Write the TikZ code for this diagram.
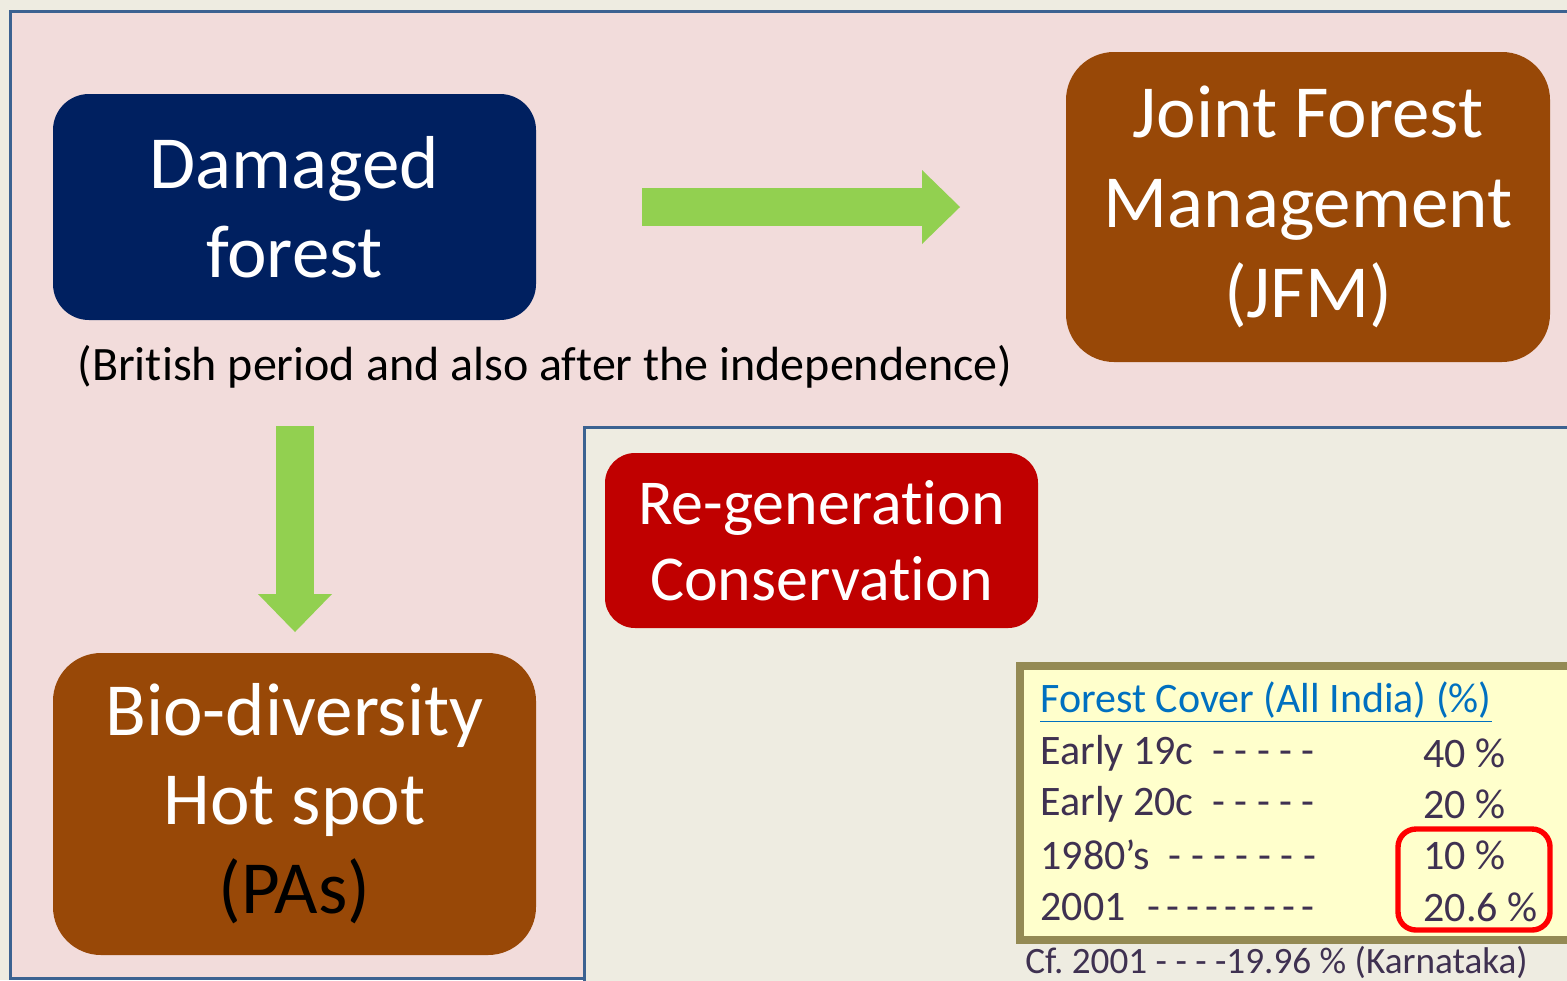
\documentclass[tikz,border=0pt]{standalone}
\usepackage{fontspec}
\setmainfont[Ligatures=NoCommon]{Carlito}
\usetikzlibrary{arrows.meta}
\definecolor{slidebg}{HTML}{EEECE1}
\definecolor{panelpink}{HTML}{F2DCDB}
\definecolor{panelblue}{HTML}{3C6291}
\definecolor{navy}{HTML}{002060}
\definecolor{rust}{HTML}{984807}
\definecolor{deepred}{HTML}{C00000}
\definecolor{leaf}{HTML}{92D050}
\definecolor{olive}{HTML}{948A54}
\definecolor{paleyellow}{HTML}{FFFFCC}
\definecolor{plum}{HTML}{3F3151}
\definecolor{linkblue}{HTML}{0070C0}
\frenchspacing

\begin{document}
\begin{tikzpicture}[x=0.5pt,y=-0.5pt,
   box/.style={rounded corners=#1,align=center,inner sep=0pt,text=white,
      font=\fontsize{38pt}{44pt}\selectfont},
   bigarrow/.style={leaf,line width=19pt,
      -{Triangle[length=19pt,width=37pt,line width=0pt]}},
   row/.style={anchor=west,inner sep=0pt,text=plum,font=\fontsize{21pt}{25pt}\selectfont}]
\useasboundingbox (0,0) rectangle (1567,980);
\clip (0,0) rectangle (1567,980);
\fill[slidebg] (0,0) rectangle (1567,980);
% panels
\draw[panelblue,fill=panelpink,line width=1.5pt] (10,11) rectangle (1600,978);
\draw[panelblue,fill=slidebg,line width=1.5pt] (584,427) rectangle (1600,1010);

% boxes
\node[box=18pt,fill=navy,minimum width=241.5pt,minimum height=113pt,
   font=\fontsize{37.5pt}{44.5pt}\selectfont] (dmg) at (294.5,207)
   {Damaged\\forest};
\node[box=24pt,fill=rust,minimum width=242pt,minimum height=155pt,
   font=\fontsize{37.5pt}{45pt}\selectfont] (jfm) at (1308,207)
   {Joint Forest\\Management\\(JFM)};
\node[box=24pt,fill=rust,minimum width=241.5pt,minimum height=151pt,
   font=\fontsize{37.5pt}{44.5pt}\selectfont] (bio) at (294.5,804)
   {Bio-diversity\\Hot spot\\\textcolor{black}{(PAs)}};
\node[box=15pt,fill=deepred,minimum width=216.5pt,minimum height=87.5pt,
   font=\fontsize{32pt}{38pt}\selectfont] (regen) at (821.5,540.5)
   {Re-generation\\Conservation};
\node[inner sep=0pt,font=\fontsize{24pt}{28pt}\selectfont] (period) at (545,367)
   {(British period and also after the independence)};

% arrows
\coordinate (r1) at (642,207);
\coordinate (r2) at (960,207);
\coordinate (d1) at (295,426);
\coordinate (d2) at (295,632);
\draw[bigarrow] (r1) -- (r2);
\draw[bigarrow] (d1) -- (d2);

% forest cover table
\draw[olive,fill=paleyellow,line width=4pt] (1020,666) rectangle (1600,940);
\node[row,text=linkblue] (title) at (1040,702) {\underline{Forest Cover (All India) (\%)}};
\node[row] (r19) at (1040,753) {Early 19c\ \ - - - - -};
\node[row] (r20) at (1040,804) {Early 20c\ \ - - - - -};
\node[row] (r80) at (1040,855) {1980’s\ \ - - - - - - -};
\node[row] (r01) at (1040,907) {2001\hspace{11pt}{\spaceskip=3.2pt - - - - - - - - -}};
\node[row] (v19) at (1423,753) {40 \%};
\node[row] (v20) at (1423,804) {20 \%};
\node[row] (v80) at (1423,855) {10 \%};
\node[row] (v01) at (1423,907) {20.6 \%};
\node[draw=red,line width=2.7pt,rounded corners=9pt,minimum width=76pt,minimum height=50.5pt] (mark) at (1474,879.5) {};
\node[row,font=\fontsize{18.6pt}{22pt}\selectfont] (cf) at (1025,962) {Cf. 2001 - - - -19.96 \% (Karnataka)};
\end{tikzpicture}
\end{document}
